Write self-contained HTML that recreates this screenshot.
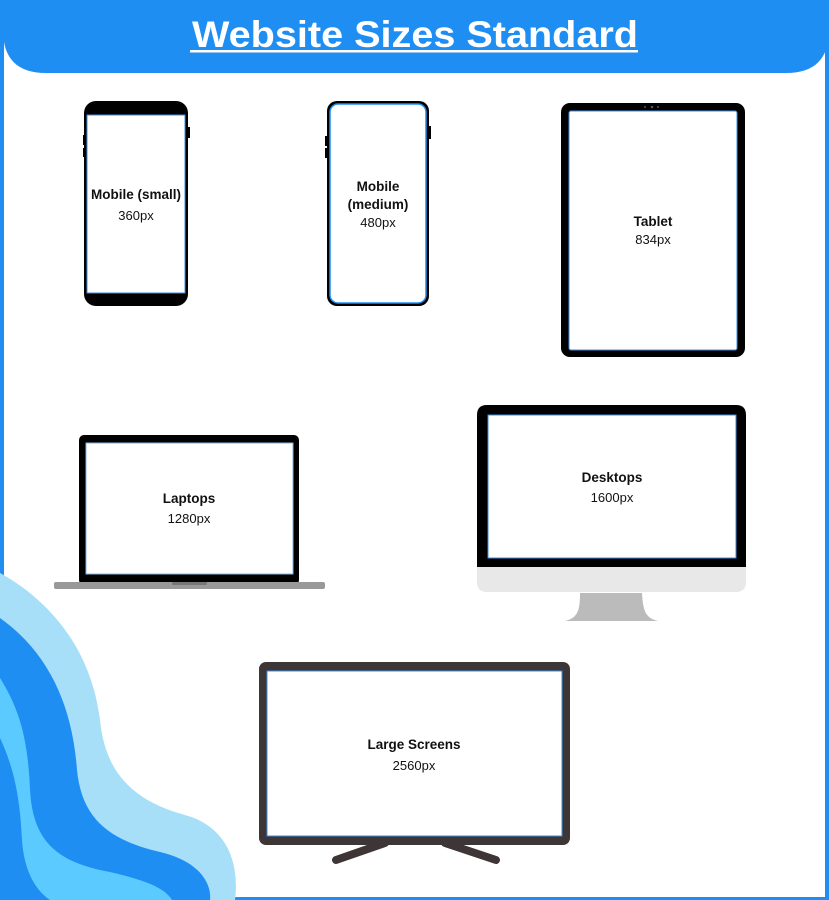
<!DOCTYPE html>
<html><head><meta charset="utf-8"><style>
html,body{margin:0;padding:0;background:#fff;}
svg{display:block;}
text{font-family:"Liberation Sans",sans-serif;}
.l{font-weight:bold;font-size:13.5px;fill:#111;}
.s{font-size:13px;fill:#111;}
</style></head><body>
<svg width="829" height="900" viewBox="0 0 829 900" xmlns="http://www.w3.org/2000/svg">
<rect x="0" y="0" width="829" height="900" fill="#1f8ef3"/>
<rect x="4" y="0" width="821" height="897" fill="#fff"/>
<!-- header -->
<path d="M0 0 H829 V30 Q829 73 786 73 H46 Q3 73 3 30 Z" fill="#1f8ef3"/>
<text x="415" y="47" text-anchor="middle" font-size="37" font-weight="bold" fill="#fff" textLength="446" lengthAdjust="spacingAndGlyphs">Website Sizes Standard</text>
<rect x="190" y="50" width="448" height="2.5" fill="#fff"/>
<!-- waves -->
<path d="M0 573 C40 595 90 640 100 720 C105 770 130 800 185 815 C225 826 240 860 235 900 H0 Z" fill="#a6dff7"/>
<path d="M0 618 C45 650 72 700 77 770 C82 820 110 840 160 852 C195 860 212 880 210 900 H0 Z" fill="#1f8ef3"/>
<path d="M0 678 C20 710 28 740 30 790 C33 840 55 862 110 872 C145 880 165 888 172 900 H0 Z" fill="#5bcbff"/>
<path d="M0 738 C15 770 20 800 22 840 C24 870 35 890 50 900 H0 Z" fill="#1f8ef3"/>
<!-- mobile small -->
<rect x="83" y="135" width="4" height="10" fill="#000"/>
<rect x="83" y="148" width="4" height="9" fill="#000"/>
<rect x="186" y="127" width="4" height="11" fill="#000"/>
<rect x="84" y="101" width="104" height="205" rx="12" fill="#000"/>
<rect x="87" y="115" width="98" height="178" fill="#fff" stroke="#3b8de0" stroke-width="1"/>
<text class="l" x="136" y="199" text-anchor="middle">Mobile (small)</text>
<text class="s" x="136" y="220" text-anchor="middle">360px</text>
<!-- mobile medium -->
<rect x="325" y="136" width="4" height="10" fill="#000"/>
<rect x="325" y="148" width="4" height="10" fill="#000"/>
<rect x="427" y="126" width="4" height="13" fill="#000"/>
<rect x="327" y="101" width="102" height="205" rx="10" fill="#000"/>
<rect x="330" y="104" width="96" height="199" rx="8" fill="#fff" stroke="#1f8ef3" stroke-width="1.5"/>
<text class="l" x="378" y="191" text-anchor="middle">Mobile</text>
<text class="l" x="378" y="209" text-anchor="middle">(medium)</text>
<text class="s" x="378" y="227" text-anchor="middle">480px</text>
<!-- tablet -->
<rect x="561" y="103" width="184" height="254" rx="9" fill="#000"/>
<rect x="569" y="111" width="168" height="239" rx="2" fill="#fff" stroke="#3b8de0" stroke-width="1"/>
<circle cx="645" cy="107" r="1" fill="#555"/><circle cx="652" cy="107" r="1.3" fill="#555"/><circle cx="658" cy="107" r="1" fill="#555"/>
<text class="l" x="653" y="226" text-anchor="middle">Tablet</text>
<text class="s" x="653" y="244" text-anchor="middle">834px</text>
<!-- laptop -->
<rect x="79" y="435" width="220" height="150" rx="5" fill="#000"/>
<rect x="86" y="443" width="207" height="131" fill="#fff" stroke="#7fb6e6" stroke-width="1"/>
<rect x="54" y="582" width="271" height="7" rx="2" fill="#999"/>
<rect x="172" y="582" width="35" height="3" rx="1.5" fill="#777"/>
<text class="l" x="189" y="503" text-anchor="middle">Laptops</text>
<text class="s" x="189" y="523" text-anchor="middle">1280px</text>
<!-- desktop -->
<path d="M580 593 H642 C643 610 645 618 658 621 H565 C578 618 580 610 580 593 Z" fill="#bbb"/>
<path d="M477 567 H746 V582 Q746 592 736 592 H487 Q477 592 477 582 Z" fill="#e8e8e8"/>
<path d="M487 405 H736 Q746 405 746 415 V567 H477 V415 Q477 405 487 405 Z" fill="#000"/>
<rect x="488" y="415" width="248" height="143" fill="#fff" stroke="#3b8de0" stroke-width="1"/>
<text class="l" x="612" y="482" text-anchor="middle">Desktops</text>
<text class="s" x="612" y="502" text-anchor="middle">1600px</text>
<!-- tv -->
<line x1="385" y1="843" x2="336" y2="860" stroke="#3d3536" stroke-width="8" stroke-linecap="round"/>
<line x1="445" y1="843" x2="496" y2="860" stroke="#3d3536" stroke-width="8" stroke-linecap="round"/>
<rect x="259" y="662" width="311" height="183" rx="7" fill="#3d3536"/>
<rect x="267" y="671" width="295" height="165" fill="#fff" stroke="#3b8de0" stroke-width="1"/>
<text class="l" x="414" y="749" text-anchor="middle">Large Screens</text>
<text class="s" x="414" y="770" text-anchor="middle">2560px</text>
</svg>
</body></html>
